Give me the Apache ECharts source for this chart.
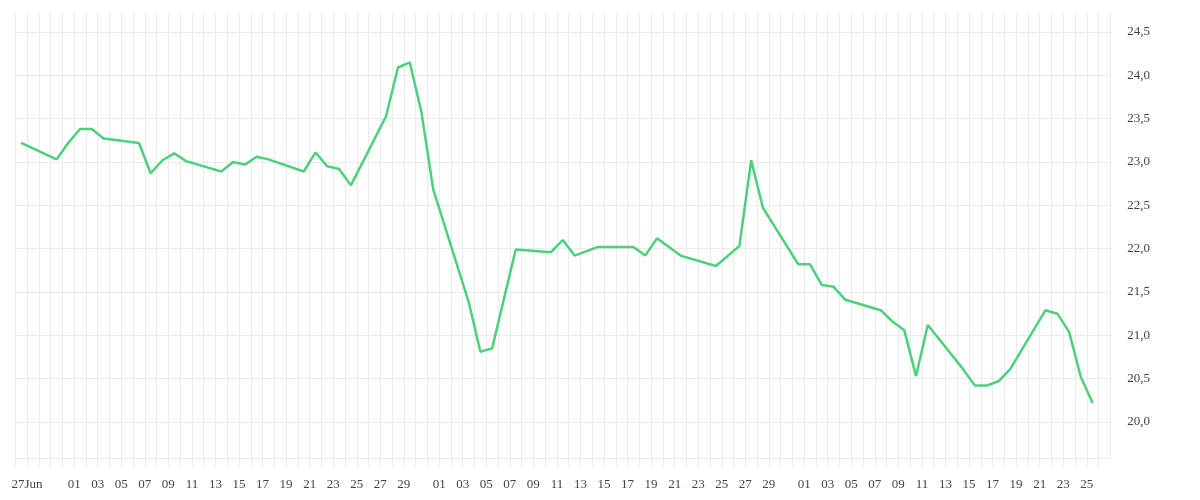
<!DOCTYPE html>
<html>
<head>
<meta charset="utf-8">
<script src="https://cdn.jsdelivr.net/npm/echarts@6/dist/echarts.min.js"></script>
<style>
html,body{margin:0;padding:0;background:#fff;}
#chart{width:1200px;height:500px;}
</style>
</head>
<body>
<div id="chart"></div>
<script>
// Dates (2020, noon UTC) and values
var dates = [
  '2020-06-26','2020-06-29','2020-06-30','2020-07-01','2020-07-02','2020-07-03',
  '2020-07-06','2020-07-07','2020-07-08','2020-07-09','2020-07-10',
  '2020-07-13','2020-07-14','2020-07-15','2020-07-16','2020-07-17',
  '2020-07-20','2020-07-21','2020-07-22','2020-07-23','2020-07-24',
  '2020-07-27','2020-07-28','2020-07-29','2020-07-30','2020-07-31',
  '2020-08-03','2020-08-04','2020-08-05','2020-08-07',
  '2020-08-10','2020-08-11','2020-08-12','2020-08-14',
  '2020-08-17','2020-08-18','2020-08-19','2020-08-21',
  '2020-08-24','2020-08-26','2020-08-27','2020-08-28',
  '2020-08-31','2020-09-01','2020-09-02','2020-09-03','2020-09-04',
  '2020-09-07','2020-09-08','2020-09-09','2020-09-10','2020-09-11',
  '2020-09-14','2020-09-15','2020-09-16','2020-09-17','2020-09-18',
  '2020-09-21','2020-09-22','2020-09-23','2020-09-24','2020-09-25'
];
var values = [
  23.22,23.03,23.22,23.38,23.38,23.27,
  23.22,22.87,23.02,23.10,23.01,
  22.89,23.00,22.97,23.06,23.03,
  22.89,23.11,22.95,22.92,22.73,
  23.53,24.09,24.15,23.57,22.68,
  21.39,20.81,20.85,21.99,
  21.96,22.10,21.92,22.02,
  22.02,21.92,22.12,21.92,
  21.80,22.03,23.02,22.47,
  21.82,21.82,21.58,21.56,21.41,
  21.29,21.16,21.06,20.53,21.12,
  20.61,20.42,20.42,20.47,20.61,
  21.29,21.25,21.04,20.52,20.22
];
var axisStart = '2020-06-26';
var axisEnd = '2020-09-27';
var yMin = 19.585, yMax = 24.727;

var DAY = 86400000;
function utc(s, h){ var p = s.split('-'); return Date.UTC(+p[0], +p[1]-1, +p[2], h||0); }
var seriesData = dates.map(function(d, i){ return [utc(d, 12), values[i]]; });

var grid = '#ebebeb';
var font = 'Liberation Serif';
var chart = echarts.init(document.getElementById('chart'));
chart.setOption({
  animation: false,
  grid: {left: 15.3, right: 89.7, top: 12.3, bottom: 42},
  xAxis: {
    type: 'value',
    min: utc(axisStart), max: utc(axisEnd), interval: DAY,
    axisLine: {show: true, lineStyle: {color: grid, width: 1}},
    axisTick: {show: true, length: 10, lineStyle: {color: grid}},
    splitLine: {show: true, lineStyle: {color: grid, width: 1}},
    axisLabel: {
      interval: 0, margin: 20, color: '#444', fontFamily: font, fontSize: 13,
      showMinLabel: true, showMaxLabel: false,
      formatter: function(v){
        var d = new Date(v);
        var day = d.getUTCDate(), m = d.getUTCMonth();
        if (m === 5) return day === 27 ? '27Jun' : '';
        if (m === 8 && day > 25) return '';
        if (day % 2 === 1 && day <= 29) return (day < 10 ? '0' : '') + day;
        return '';
      }
    }
  },
  yAxis: {
    type: 'value', position: 'right',
    min: yMin, max: yMax, splitNumber: 10,
    axisLine: {show: false}, axisTick: {show: false},
    splitLine: {show: true, showMaxLine: false, lineStyle: {color: grid, width: 1}},
    axisLabel: {
      margin: 17, color: '#444', fontFamily: font, fontSize: 13,
      showMinLabel: false, showMaxLabel: false,
      formatter: function(v){ return v.toFixed(1).replace('.', ','); }
    }
  },
  series: [{
    type: 'line', data: seriesData, showSymbol: false, symbol: 'none',
    lineStyle: {color: '#4cd07d', width: 2.5},
    itemStyle: {color: '#4cd07d'}
  }]
});
</script>
</body>
</html>
